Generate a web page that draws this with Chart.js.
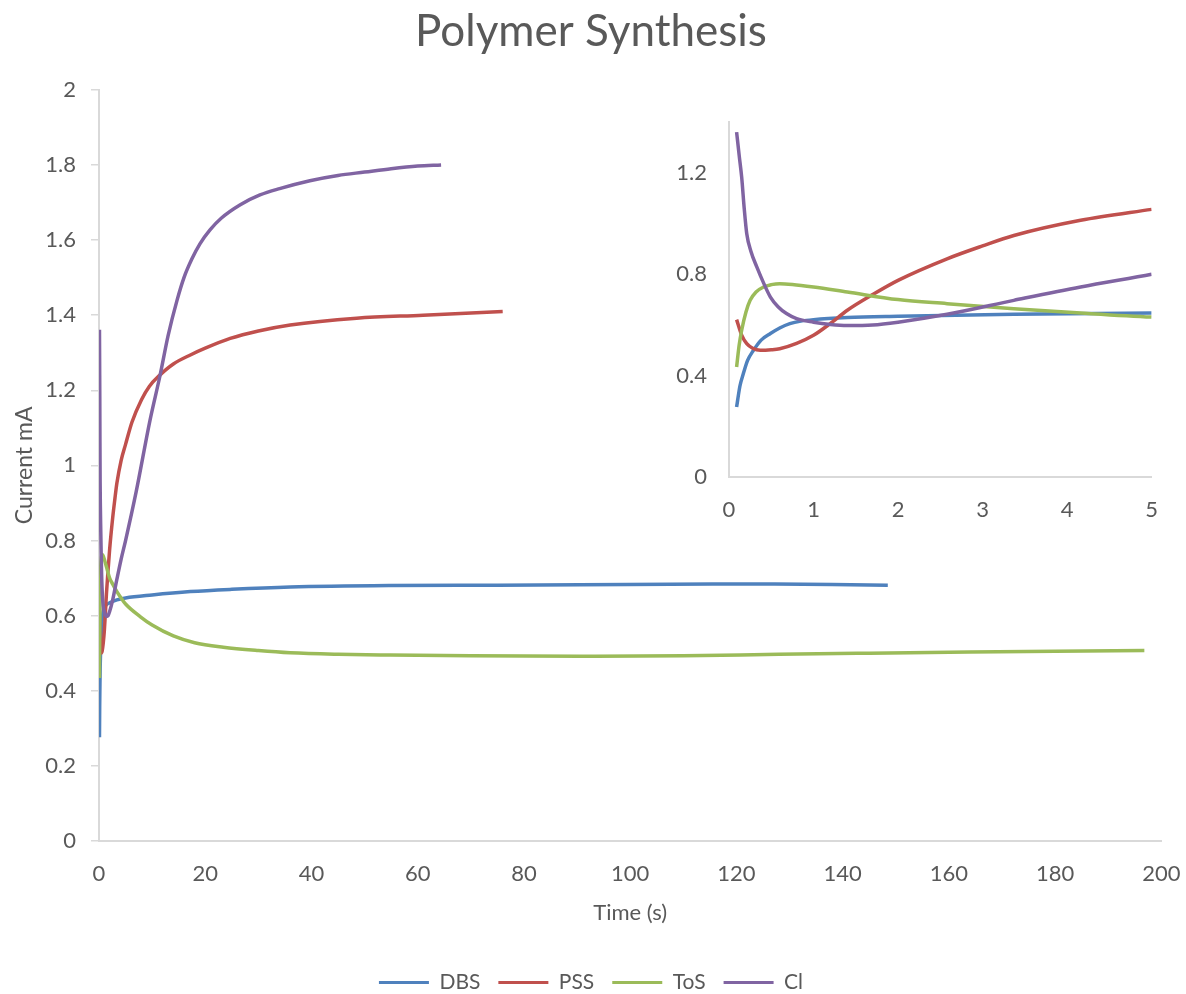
<!DOCTYPE html>
<html><head><meta charset="utf-8">
<script src="https://cdn.jsdelivr.net/npm/chart.js@4.4.0/dist/chart.umd.min.js"></script>
<style>
html,body{margin:0;padding:0;background:#fff;overflow:hidden}
#wrap{position:relative;width:1186px;height:994px}
#main{position:absolute;left:0;top:0}
#inset{position:absolute;left:660px;top:95px}
</style></head><body>
<div id="wrap"><canvas id="main" width="1186" height="994"></canvas><canvas id="inset" width="510" height="433"></canvas></div>
<script>
// ---- data ----
const chartTitle = 'Polymer Synthesis';
const xAxisTitle = 'Time (s)';
const yAxisTitle = 'Current mA';
const seriesNames = ['DBS', 'PSS', 'ToS', 'Cl'];

const dbsTime = [0.09, 0.13, 0.17, 0.22, 0.29, 0.38, 0.49, 0.6, 0.72, 0.85, 1.0, 1.4, 2.0, 3.37, 5, 10, 17.2, 25, 36, 54.8, 75, 90.5, 115.5, 127, 138, 148.5];
const dbsCurrent = [0.276, 0.36, 0.408, 0.46, 0.50, 0.54, 0.566, 0.588, 0.605, 0.615, 0.621, 0.629, 0.634, 0.642, 0.647, 0.655, 0.664, 0.670, 0.676, 0.680, 0.681, 0.682, 0.684, 0.684, 0.683, 0.681];

const pssTime = [0.09, 0.15, 0.21, 0.28, 0.37, 0.5, 0.6, 0.8, 1.0, 1.2, 1.4, 1.7, 2.0, 2.58, 3.0, 3.37, 4.16, 5.0, 6.2, 8, 9.5, 11.2, 14, 17.2, 20, 24.7, 30, 36, 48.5, 61, 76];
const pssCurrent = [0.621, 0.56, 0.526, 0.508, 0.50, 0.502, 0.506, 0.527, 0.559, 0.606, 0.658, 0.72, 0.776, 0.861, 0.912, 0.953, 1.013, 1.056, 1.115, 1.175, 1.211, 1.237, 1.27, 1.294, 1.312, 1.338, 1.358, 1.374, 1.392, 1.40, 1.41];

const tosTime = [0.09, 0.12, 0.15, 0.2, 0.25, 0.32, 0.41, 0.5, 0.6, 0.75, 1.0, 1.4, 2.0, 2.58, 3.37, 4.16, 5.0, 7.8, 10, 14, 18, 23.4, 30, 36, 45, 54.8, 70, 90.5, 110, 128, 145, 163.9, 180, 196.8];
const tosCurrent = [0.434, 0.52, 0.579, 0.65, 0.697, 0.73, 0.75, 0.759, 0.763, 0.76, 0.75, 0.73, 0.70, 0.684, 0.664, 0.647, 0.631, 0.597, 0.575, 0.546, 0.528, 0.516, 0.507, 0.501, 0.497, 0.495, 0.493, 0.492, 0.493, 0.497, 0.500, 0.503, 0.505, 0.507];

const clTime = [0.09, 0.12, 0.15, 0.18, 0.21, 0.26, 0.33, 0.41, 0.49, 0.58, 0.68, 0.8, 1.0, 1.2, 1.4, 1.7, 2.0, 2.58, 3.37, 4.16, 5.0, 7, 9.6, 11.5, 13, 14.7, 16, 17.5, 19, 20.9, 23, 26.6, 30.3, 34, 39.7, 45, 50, 55, 60, 64.4];
const clCurrent = [1.361, 1.27, 1.183, 1.06, 0.96, 0.89, 0.828, 0.765, 0.71, 0.672, 0.645, 0.625, 0.611, 0.602, 0.598, 0.600, 0.611, 0.642, 0.697, 0.75, 0.80, 0.93, 1.12, 1.24, 1.345, 1.44, 1.5, 1.55, 1.59, 1.627, 1.658, 1.694, 1.72, 1.737, 1.758, 1.772, 1.781, 1.79, 1.797, 1.80];

const mainXTicks = [0, 20, 40, 60, 80, 100, 120, 140, 160, 180, 200];
const mainYTicks = [0, 0.2, 0.4, 0.6, 0.8, 1, 1.2, 1.4, 1.6, 1.8, 2];
const insetXTicks = [0, 1, 2, 3, 4, 5];
const insetYTicks = [0, 0.4, 0.8, 1.2];

// ---- styles ----
const colors = ['#4F81BD', '#C0504D', '#9BBB59', '#8064A2'];
const FONT = 'Lato, "Open Sans", sans-serif';
const TXT = '#595959';
const AXIS = '#d9d9d9';

const times = [dbsTime, pssTime, tosTime, clTime];
const currents = [dbsCurrent, pssCurrent, tosCurrent, clCurrent];

function makeDatasets() {
  return seriesNames.map((name, i) => ({
    label: name,
    data: times[i].map((t, j) => ({x: t, y: currents[i][j]})),
    borderColor: colors[i],
    backgroundColor: colors[i],
    borderWidth: 3.5,
    pointRadius: 0,
    fill: false,
    cubicInterpolationMode: 'monotone',
    order: seriesNames.length - i
  }));
}
const setTicks = arr => s => { s.ticks = arr.map(v => ({value: v})); };
const fmt = v => String(v);

new Chart(document.getElementById('main'), {
  type: 'line',
  data: {datasets: makeDatasets()},
  options: {
    responsive: false, animation: false, events: [],
    layout: {padding: {left: 0, right: 4, top: 5, bottom: -9}},
    plugins: {
      tooltip: {enabled: false},
      title: {display: true, text: chartTitle, color: TXT,
        font: {family: FONT, size: 44, weight: 'normal'}, padding: {top: 0, bottom: 32}},
      legend: {position: 'bottom',
        labels: {boxWidth: 50, boxHeight: 3, padding: 18, color: TXT,
          font: {family: FONT, size: 21},
          sort: (a, b) => a.datasetIndex - b.datasetIndex,
          generateLabels: c => Chart.defaults.plugins.legend.labels.generateLabels(c).map(l => Object.assign(l, {lineWidth: 0}))}}
    },
    scales: {
      x: {type: 'linear', min: 0, max: 200,
        afterBuildTicks: setTicks(mainXTicks),
        afterFit: s => { s.height = 113; },
        ticks: {color: TXT, font: {family: FONT, size: 22}, padding: 5.5, maxRotation: 0, callback: fmt},
        grid: {display: true, drawOnChartArea: false, drawTicks: true, tickLength: 14.5, color: 'rgba(0,0,0,0)'},
        border: {color: AXIS, width: 2},
        title: {display: true, text: xAxisTitle, color: TXT, font: {family: FONT, size: 22}, padding: {top: 0, bottom: 28}}
      },
      y: {type: 'linear', min: 0, max: 2,
        afterBuildTicks: setTicks(mainYTicks),
        afterFit: s => { s.width = 99; },
        ticks: {color: TXT, font: {family: FONT, size: 22}, padding: 15, callback: fmt},
        grid: {display: true, drawOnChartArea: false, drawTicks: true, tickLength: 8, color: AXIS, lineWidth: 1.5},
        border: {color: AXIS, width: 2},
        title: {display: true, text: yAxisTitle, color: TXT, font: {family: FONT, size: 23}, padding: {top: 11, bottom: 0}}
      }
    }
  }
});

new Chart(document.getElementById('inset'), {
  type: 'line',
  data: {datasets: makeDatasets()},
  options: {
    responsive: false, animation: false, events: [],
    layout: {padding: {left: 0, right: 14, top: 0, bottom: 0}},
    plugins: {tooltip: {enabled: false}, legend: {display: false}, title: {display: false}},
    scales: {
      x: {type: 'linear', min: 0, max: 5,
        afterBuildTicks: setTicks(insetXTicks),
        afterFit: s => { s.height = 51; },
        ticks: {color: TXT, font: {family: FONT, size: 22}, padding: 12, maxRotation: 0, callback: fmt},
        grid: {display: false},
        border: {color: AXIS, width: 2}
      },
      y: {type: 'linear', min: 0, max: 1.4,
        afterBuildTicks: setTicks(insetYTicks),
        afterFit: s => { s.width = 69; },
        ticks: {color: TXT, font: {family: FONT, size: 22}, padding: 14, callback: fmt},
        grid: {display: false},
        border: {color: AXIS, width: 2}
      }
    }
  }
});
</script>
</body></html>
